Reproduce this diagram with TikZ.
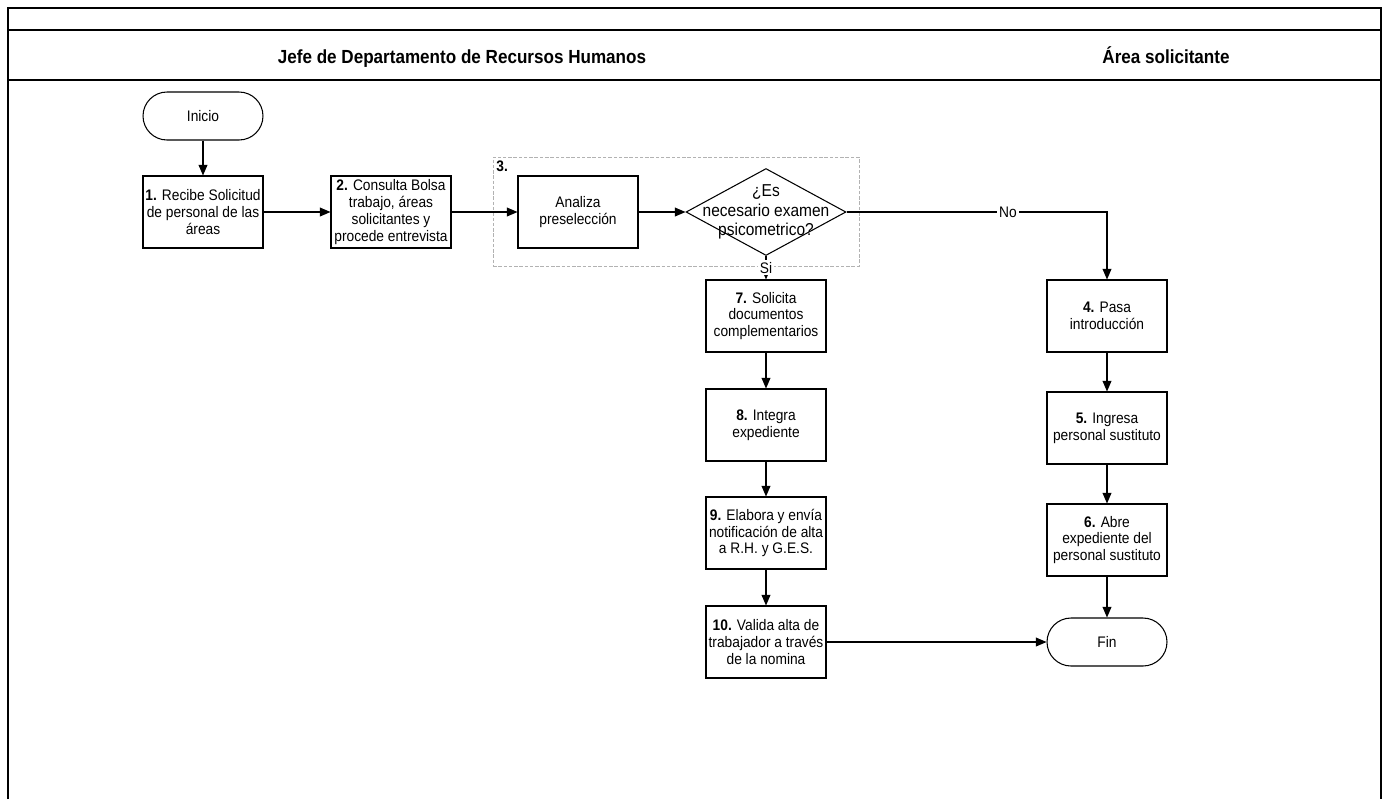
\documentclass[tikz,border=0pt]{standalone}
\usepackage{fontspec}
\setmainfont{Liberation Sans}[FakeStretch=0.9]
\usepackage{tikz}
\usetikzlibrary{shapes.geometric, arrows.meta}

\tikzset{
	paso/.style={draw, line width=0.6pt, minimum width=2.4cm, minimum height=1.44cm, align=center, inner sep=1pt, font=\fontsize{8.7}{9.6}\selectfont},
	terminal/.style={paso, minimum height=0.96cm, rounded corners=0.48cm},
	decision/.style={draw, line width=0.6pt, diamond, aspect=1.84, minimum width=3.2cm, minimum height=1.74cm, inner sep=0pt},
	grupo/.style={draw=gray!60, line width=0.5pt, dash pattern=on 2pt off 1pt, minimum width=7.32cm, minimum height=2.18cm},
	etiqueta/.style={fill=white, inner sep=1pt, font=\fontsize{8.7}{9.6}\selectfont},
	flecha/.style={line width=0.6pt, -{Triangle[length=6pt, width=5pt]}},
	carril/.style={anchor=base, font=\bfseries\fontsize{10.8}{13}\selectfont}
}

\begin{document}
\begin{tikzpicture}[x=0.02cm, y=-0.02cm]

\useasboundingbox (0,0) rectangle (1386,799);

\draw[line width=0.8pt] (8,799)--(8,8)--(1381,8)--(1381,799);
\draw[line width=1.1pt] (8,30)--(1381,30);
\draw[line width=1.1pt] (8,80)--(1381,80);

\node[carril] (rh) at (462,63) {Jefe de Departamento de Recursos Humanos};
\node[carril] (area) at (1166,63) {Área solicitante};

\node[grupo] (g3) at (676,211.5) {};
\node[anchor=north west, inner sep=2pt, font=\bfseries\fontsize{8.7}{9.6}\selectfont] (n3) at (g3.north west) {3.};

\node[terminal] (inicio) at (203,116) {Inicio};
\node[paso] (p1) at (203,212) {\textbf{1.} Recibe Solicitud\\de personal de las\\áreas};
\node[paso] (p2) at (391,212) {\textbf{2.} Consulta Bolsa\\trabajo, áreas\\solicitantes y\\procede entrevista};
\node[paso] (p3) at (578,212) {Analiza\\preselección};
\node[decision, label={[align=center, font=\fontsize{9.8}{11}\selectfont]center:¿Es\\necesario examen\\psicometrico?}] (d3) at (766,212) {};

\node[paso] (p7) at (766,316) {\textbf{7.} Solicita\\documentos\\complementarios};
\node[paso] (p8) at (766,425) {\textbf{8.} Integra\\expediente};
\node[paso] (p9) at (766,533) {\textbf{9.} Elabora y envía\\notificación de alta\\a R.H. y G.E.S.};
\node[paso] (p10) at (766,642) {\textbf{10.} Valida alta de\\trabajador a través\\de la nomina};

\node[paso] (p4) at (1107,316) {\textbf{4.} Pasa\\introducción};
\node[paso] (p5) at (1107,428) {\textbf{5.} Ingresa\\personal sustituto};
\node[paso] (p6) at (1107,540) {\textbf{6.} Abre\\expediente del\\personal sustituto};
\node[terminal] (fin) at (1107,642) {Fin};

\draw[flecha] (inicio) -- (p1);
\draw[flecha] (p1) -- (p2);
\draw[flecha] (p2) -- (p3);
\draw[flecha] (p3) -- (d3);
\draw[flecha] (d3) -| node[etiqueta, pos=0.31] (no) {No} (p4);
\draw[flecha] (d3) -- node[etiqueta] (si) {Si} (p7);
\draw[flecha] (p7) -- (p8);
\draw[flecha] (p8) -- (p9);
\draw[flecha] (p9) -- (p10);
\draw[flecha] (p10) -- (fin);
\draw[flecha] (p4) -- (p5);
\draw[flecha] (p5) -- (p6);
\draw[flecha] (p6) -- (fin);

\end{tikzpicture}
\end{document}
